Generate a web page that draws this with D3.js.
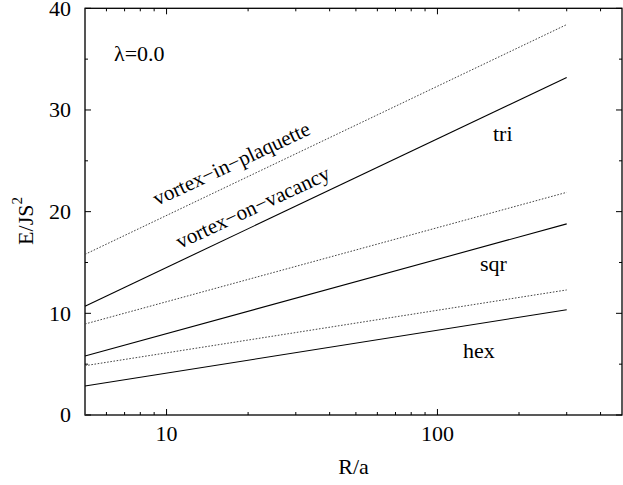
<!DOCTYPE html>
<html>
<head>
<meta charset="utf-8">
<script src="https://cdn.jsdelivr.net/npm/d3@7"></script>
<style>
  html, body { margin: 0; padding: 0; background: #fff; }
  svg { display: block; }
  text { font-family: "Liberation Serif", "Times New Roman", Times, serif; fill: #000; }
</style>
</head>
<body>
<svg id="chart" width="623" height="485"></svg>
<script>
// Vortex energy vs. system size, for three lattices at lambda = 0
const radii = [5, 300];

const triPlaquette = [15.8, 38.4];
const triVacancy   = [10.7, 33.2];
const sqrPlaquette = [8.95, 21.9];
const sqrVacancy   = [5.8, 18.8];
const hexPlaquette = [4.85, 12.3];
const hexVacancy   = [2.85, 10.35];

const xMajorTicks = [10, 100];
const xMinorTicks = [6, 7, 8, 9, 20, 30, 40, 50, 60, 70, 80, 90, 200, 300, 400];
const yMajorTicks = [0, 10, 20, 30, 40];
const yMinorTicks = [5, 15, 25, 35];

const series = [
  { values: triPlaquette, dotted: true },
  { values: triVacancy,   dotted: false },
  { values: sqrPlaquette, dotted: true },
  { values: sqrVacancy,   dotted: false },
  { values: hexPlaquette, dotted: true },
  { values: hexVacancy,   dotted: false }
];

const svg = d3.select("#chart");
const plotLeft = 85, plotRight = 622, plotTop = 8.3, plotBottom = 415;

const x = d3.scaleLog().domain([5, 480]).range([plotLeft, plotRight]);
const y = d3.scaleLinear().domain([0, 40]).range([plotBottom, plotTop]);

// frame
svg.append("rect")
  .attr("x", plotLeft).attr("y", plotTop)
  .attr("width", plotRight - plotLeft).attr("height", plotBottom - plotTop)
  .attr("fill", "none").attr("stroke", "#000").attr("stroke-width", 1.3);
// left edge drawn a little heavier and greyer
svg.append("line")
  .attr("x1", plotLeft).attr("x2", plotLeft).attr("y1", plotTop).attr("y2", plotBottom)
  .attr("stroke", "#555").attr("stroke-width", 2);

// inward ticks on all four sides
const tickG = svg.append("g").attr("stroke", "#000").attr("stroke-width", 1);
function xTicks(vals, len) {
  vals.forEach(v => {
    tickG.append("line").attr("x1", x(v)).attr("x2", x(v)).attr("y1", plotBottom).attr("y2", plotBottom - len);
    tickG.append("line").attr("x1", x(v)).attr("x2", x(v)).attr("y1", plotTop).attr("y2", plotTop + len);
  });
}
function yTicks(vals, len) {
  vals.forEach(v => {
    tickG.append("line").attr("y1", y(v)).attr("y2", y(v)).attr("x1", plotLeft).attr("x2", plotLeft + len);
    tickG.append("line").attr("y1", y(v)).attr("y2", y(v)).attr("x1", plotRight).attr("x2", plotRight - len);
  });
}
xTicks(xMajorTicks, 6);
xTicks(xMinorTicks, 3);
yTicks(yMajorTicks, 6);
yTicks(yMinorTicks, 3);

// tick labels
svg.append("g").selectAll("text").data(xMajorTicks).join("text")
  .attr("x", d => x(d)).attr("y", 441)
  .attr("text-anchor", "middle").attr("font-size", 22)
  .text(d => d);

svg.append("g").selectAll("text").data(yMajorTicks).join("text")
  .attr("x", 71).attr("y", d => y(d)).attr("dy", "0.34em")
  .attr("text-anchor", "end").attr("font-size", 22)
  .text(d => d);

// axis titles
svg.append("text").attr("x", (plotLeft + plotRight) / 2).attr("y", 474)
  .attr("text-anchor", "middle").attr("font-size", 22).text("R/a");

const yt = svg.append("text")
  .attr("transform", "translate(33,221) rotate(-90)")
  .attr("text-anchor", "middle").attr("font-size", 22);
yt.append("tspan").text("E/JS");
yt.append("tspan").attr("font-size", 15).attr("dy", "-0.75em").text("2");

// curves
const line = d3.line().x((d, i) => x(radii[i])).y(d => y(d));
svg.append("g").selectAll("path").data(series).join("path")
  .attr("d", d => line(d.values))
  .attr("fill", "none")
  .attr("stroke", d => d.dotted ? "#444" : "#000")
  .attr("stroke-width", d => d.dotted ? 1 : 1.1)
  .attr("stroke-dasharray", d => d.dotted ? "1.6,1.6" : null);

// annotations
svg.append("text").attr("x", 114).attr("y", 61).attr("font-size", 22).text("λ=0.0");
svg.append("text").attr("x", 493).attr("y", 141).attr("font-size", 22).text("tri");
svg.append("text").attr("x", 480).attr("y", 271).attr("font-size", 22).text("sqr");
svg.append("text").attr("x", 463).attr("y", 358).attr("font-size", 22).text("hex");

svg.append("text").attr("font-size", 21)
  .attr("transform", "translate(157,206) rotate(-25)")
  .text("vortex−in−plaquette");
svg.append("text").attr("font-size", 21)
  .attr("transform", "translate(180,249) rotate(-25)")
  .text("vortex−on−vacancy");
</script>
</body>
</html>
